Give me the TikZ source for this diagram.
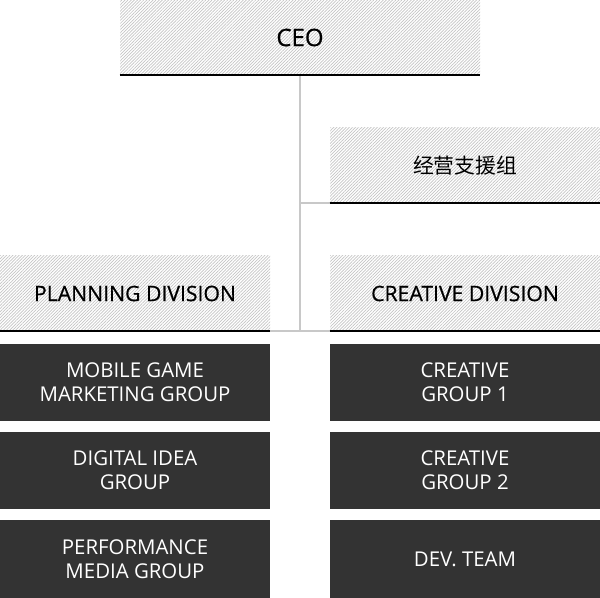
\documentclass[tikz,border=0pt]{standalone}
\usepackage{fontspec}
\setmainfont{Open Sans}
\newfontfamily\cjk{Noto Sans CJK SC}
\usetikzlibrary{patterns.meta}
\definecolor{boxdark}{HTML}{333333}
\definecolor{linkgray}{HTML}{C8C8C8}
\definecolor{hatchgray}{HTML}{C4C4C4}

\begin{document}
\begin{tikzpicture}[
    x=0.5pt, y=-0.5pt,
    head/.style={
        rectangle,
        minimum width=135pt,
        minimum height=37.5pt,
        inner sep=0pt,
        pattern={Lines[angle=45, distance=1.1pt, line width=0.35pt]},
        pattern color=hatchgray,
        font=\fontsize{10.6}{13}\selectfont\addfontfeature{FakeBold=0.6},
    },
    unit/.style={
        rectangle,
        fill=boxdark,
        text=white,
        minimum width=135pt,
        minimum height=38.5pt,
        inner sep=0pt,
        align=center,
        font=\fontsize{10.2}{12}\selectfont,
    },
    baseline/.style={
        draw=black,
        line width=1pt
    },
    link/.style={
        draw=linkgray,
        line width=1pt
    }
]
\useasboundingbox (0,0) rectangle (600,598);

% =====================
% VERTICI
% =====================
\node[head, minimum width=180pt, font=\fontsize{12}{14}\selectfont\addfontfeature{FakeBold=0.6}] at (300,37.5) (ceo) {CEO};
\node[head] at (465,165.5) (sup) {\cjk\fontsize{10.4}{13}\selectfont 经营支援组};
\node[head] at (135,293.5) (plan) {PLANNING DIVISION};
\node[head] at (465,293.5) (crea) {CREATIVE DIVISION};

% =====================
% GRUPPI
% =====================
\node[unit] at (135,382.5) (mgm) {MOBILE GAME\\MARKETING GROUP};
\node[unit] at (135,470.5) (dig) {DIGITAL IDEA\\GROUP};
\node[unit] at (135,559) (perf) {PERFORMANCE\\MEDIA GROUP};
\node[unit] at (465,382.5) (cg1) {CREATIVE\\GROUP 1};
\node[unit] at (465,470.5) (cg2) {CREATIVE\\GROUP 2};
\node[unit] at (465,559) (dev) {DEV. TEAM};

% =====================
% LINEE
% =====================
\coordinate (mid) at (300,332);

% CEO -> divisioni
\path[link] (ceo.south) -- (mid);
\path[link] (ceo.south |- sup.south) -- (sup.south west);
\path[link] (plan.south east) -- (crea.south west);

% righe nere sotto le intestazioni
\path[baseline] (ceo.south west) -- (ceo.south east);
\path[baseline] (sup.south west) -- (sup.south east);
\path[baseline] (plan.south west) -- (plan.south east);
\path[baseline] (crea.south west) -- (crea.south east);

\end{tikzpicture}
\end{document}
